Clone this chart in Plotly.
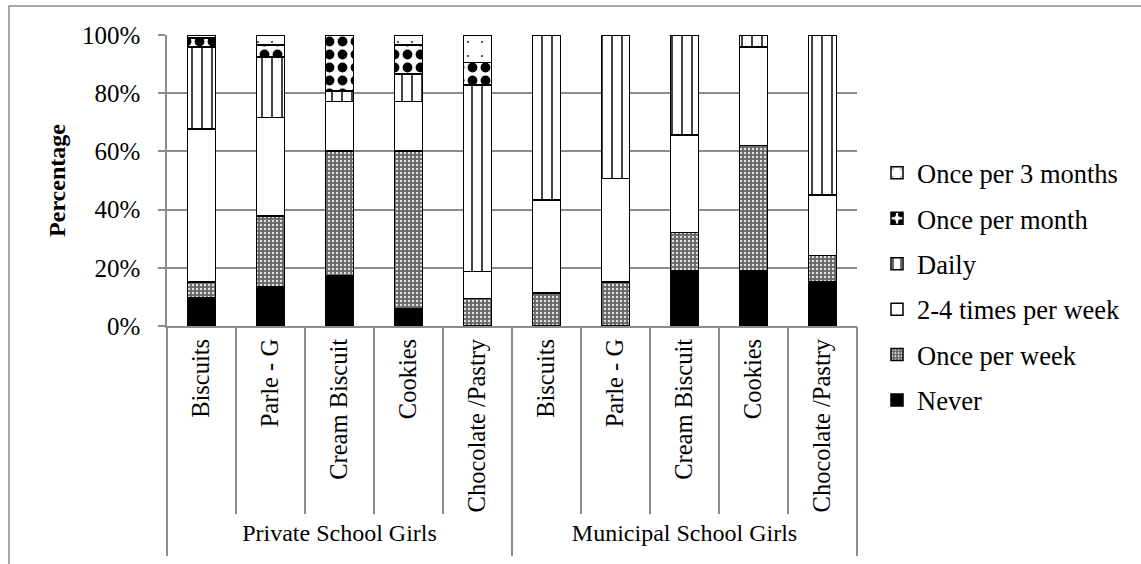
import plotly.graph_objects as go

# Groups and food items (x axis, two levels)
group_names = ["Private School Girls", "Municipal School Girls"]
groups = [group_names[0]] * 5 + [group_names[1]] * 5
items = ["Biscuits", "Parle - G", "Cream Biscuit", "Cookies", "Chocolate /Pastry"] * 2

# Percentage of girls per consumption frequency (stacked bottom to top)
never = [9.6, 13.5, 17.2, 6.1, 0, 0, 0, 19.0, 19.0, 15.2]
once_week = [5.6, 24.3, 43.0, 54.1, 9.5, 11.4, 15.1, 13.1, 43.1, 9.1]
two_four_week = [52.5, 33.8, 16.9, 16.9, 9.2, 31.9, 35.6, 33.6, 33.7, 20.7]
daily = [28.1, 20.8, 3.7, 9.5, 64.1, 56.7, 49.3, 34.3, 4.2, 55.0]
once_month = [3.2, 4.1, 19.2, 9.9, 7.7, 0, 0, 0, 0, 0]
once_3_months = [1.0, 3.5, 0, 3.5, 9.5, 0, 0, 0, 0, 0]

y_ticks = [0, 20, 40, 60, 80, 100]

FONT = "Liberation Serif, Times New Roman, serif"
GRID = "#8c8c8c"

series = [
    ("Never", never, dict(color="black")),
    ("Once per week", once_week,
     dict(color="#666666", pattern=dict(shape=".", bgcolor="#666666", fgcolor="#e0e0e0",
                                        fgopacity=1, size=4, solidity=0.3))),
    ("2-4 times per week", two_four_week, dict(color="white")),
    ("Daily", daily,
     dict(color="white", pattern=dict(shape="|", bgcolor="white", fgcolor="#222222",
                                      fgopacity=1, size=10, solidity=0.17))),
    ("Once per month", once_month,
     dict(color="white", pattern=dict(shape=".", bgcolor="white", fgcolor="black",
                                      fgopacity=1, size=13, solidity=0.45))),
    ("Once per 3 months", once_3_months,
     dict(color="white", pattern=dict(shape=".", bgcolor="white", fgcolor="#333333",
                                      fgopacity=1, size=14, solidity=0.02))),
]

fig = go.Figure()
n = len(series)
for i, (name, vals, marker) in enumerate(series):
    marker = dict(marker)
    marker["line"] = dict(color="black", width=1.5)
    fig.add_trace(go.Bar(
        x=[groups, items], y=vals, name=name, marker=marker,
        legendgroup=name, legendrank=n - i,
    ))

# index positions of the categories, for the label / divider axes
n_cat = len(items)
cat_pos = list(range(n_cat))
group_size = n_cat // len(group_names)
group_centers = [g * group_size + (group_size - 1) / 2 for g in range(len(group_names))]
group_edges = [g * group_size - 0.5 for g in range(len(group_names) + 1)]
x_range = [-0.5, n_cat - 0.5]

for ax in ("x2", "x3", "x4"):
    fig.add_trace(go.Scatter(x=x_range, y=[None, None], xaxis=ax, mode="lines",
                             showlegend=False, hoverinfo="skip"))

overlay = dict(overlaying="x", side="bottom", type="linear", range=x_range,
               automargin=False, showgrid=False, zeroline=False, showline=False,
               tickmode="array")

fig.update_layout(
    width=1141, height=564,
    margin=dict(l=167, r=284, t=35, b=238),
    paper_bgcolor="white", plot_bgcolor="white",
    barmode="stack", bargap=0.59,
    font=dict(family=FONT, size=24, color="black"),
    showlegend=True,
    legend=dict(
        x=1.029, xanchor="left", y=0.608, yanchor="top",
        traceorder="grouped", tracegroupgap=8,
        font=dict(family=FONT, size=26.5),
        itemwidth=30, bgcolor="rgba(0,0,0,0)",
    ),
    # data axis: separators between the food items
    xaxis=dict(
        type="multicategory", automargin=False, showticklabels=False,
        showgrid=False, showline=True, linecolor=GRID, linewidth=1.5,
        ticks="outside", tickson="boundaries", ticklen=186,
        tickcolor=GRID, tickwidth=1.5, showdividers=False,
    ),
    # food item labels
    xaxis2=dict(overlay, tickvals=cat_pos, ticktext=items, tickangle=-90, ticks="",
                ticklabelstandoff=7, tickfont=dict(family=FONT, size=24.5)),
    # dividers between the two school groups
    xaxis3=dict(overlay, tickvals=group_edges, showticklabels=False, ticks="outside",
                ticklen=229, tickcolor=GRID, tickwidth=1.5),
    # school group labels
    xaxis4=dict(overlay, tickvals=group_centers, ticktext=group_names, ticks="",
                ticklabelstandoff=190, tickfont=dict(family=FONT, size=24)),
    yaxis=dict(
        range=[0, 100], tickvals=y_ticks, ticktext=[f"{v}%" for v in y_ticks],
        automargin=False,
        showgrid=True, gridcolor=GRID, gridwidth=1.5,
        showline=True, linecolor=GRID, linewidth=1.5,
        ticks="outside", ticklen=7, tickcolor=GRID, tickwidth=1.5,
        ticklabelstandoff=13,
        tickfont=dict(family=FONT, size=25),
        title=dict(text="<b>Percentage</b>", font=dict(family=FONT, size=24), standoff=10),
        zeroline=False,
    ),
    shapes=[dict(type="rect", xref="paper", yref="paper",
                 x0=-0.229, x1=1.45, y0=-0.9, y1=1.0997,
                 line=dict(color=GRID, width=1.5), fillcolor="rgba(0,0,0,0)", layer="below")],
)

fig.write_html("out.html")
